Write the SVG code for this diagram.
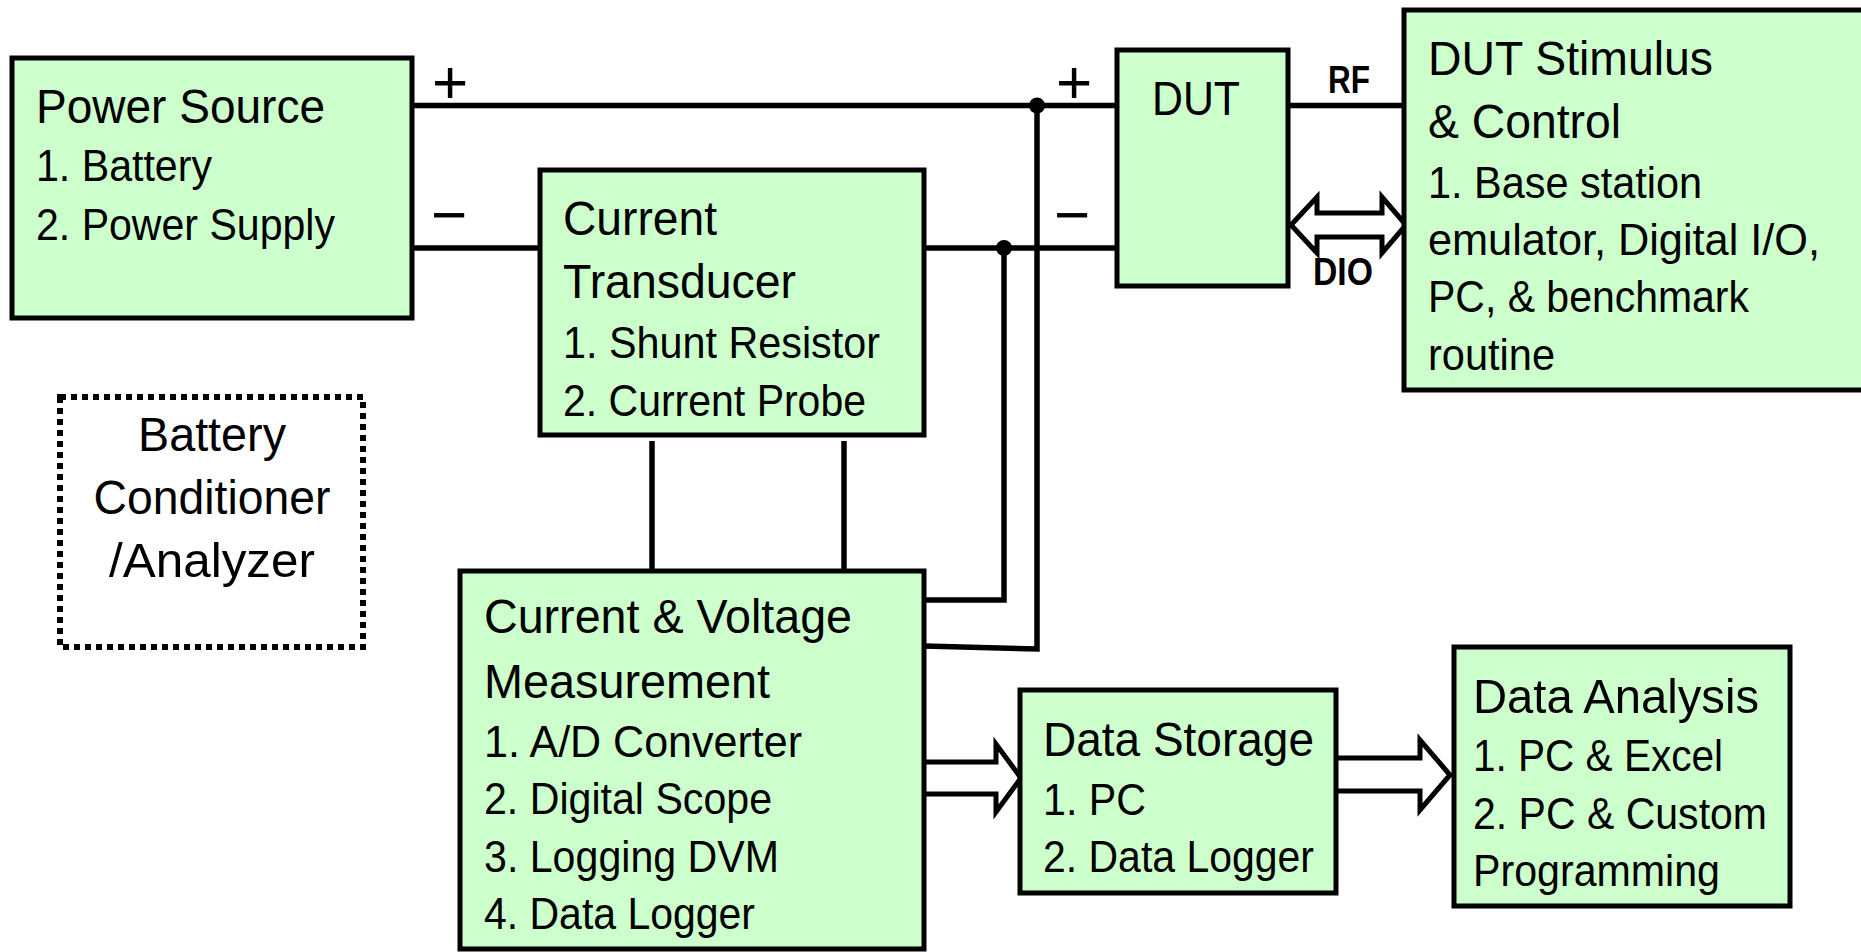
<svg xmlns="http://www.w3.org/2000/svg" width="1861" height="952" viewBox="0 0 1861 952">
<style>
.box{fill:#ccffcc;stroke:#000;stroke-width:5}
.dot-box{fill:#fff;stroke:#000;stroke-width:6;stroke-dasharray:6 5}
.t{font-family:"Liberation Sans",Arial,sans-serif;fill:#000}
.h{font-size:49px}
.l{font-size:43.5px}
.b{font-size:38px;font-weight:bold}
.sign{font-family:"Liberation Sans",Arial,sans-serif;font-size:62px;fill:#000;text-anchor:middle}
.w{fill:none;stroke:#000;stroke-width:5.5}
.blk{fill:none;stroke:#000;stroke-width:5;stroke-linejoin:miter}
</style>
<rect width="1861" height="952" fill="#fff"/>
<g id="connectors">
  <line class="w" x1="412" y1="105.5" x2="1117" y2="105.5"/>
  <line class="w" x1="412" y1="248" x2="540" y2="248"/>
  <line class="w" x1="924" y1="248" x2="1117" y2="248"/>
  <polyline class="w" points="924,646 1037,649 1037,105.5"/>
  <polyline class="w" points="924,600 1004,600 1004,248"/>
  <circle cx="1037" cy="105.5" r="8"/>
  <circle cx="1004" cy="248" r="8"/>
  <line class="w" x1="652" y1="441" x2="652" y2="571"/>
  <line class="w" x1="844" y1="441" x2="844" y2="571"/>
  <line class="w" x1="1290" y1="105.5" x2="1404" y2="105.5"/>
  <path class="blk" d="M1291,225 L1317,197 V213 H1382 V197 L1406,225 L1382,253 V237 H1317 V253 Z"/>
  <path class="blk" d="M924,762 H996 V744 L1021,778 L996,812 V794 H924"/>
  <path class="blk" d="M1336,758 H1420 V740 L1450,775 L1420,810 V791 H1336"/>
  <text class="sign" x="450" y="103">+</text>
  <text class="sign" x="449" y="236">−</text>
  <text class="sign" x="1074" y="103">+</text>
  <text class="sign" x="1072" y="236">−</text>
  <text class="t b" x="1328" y="93" textLength="42" lengthAdjust="spacingAndGlyphs">RF</text>
  <text class="t b" x="1313" y="285" textLength="60" lengthAdjust="spacingAndGlyphs">DIO</text>
</g>
<g id="power-source">
  <rect class="box" x="12" y="58" width="400" height="260"/>
  <text class="t h" x="36" y="122.5" textLength="289" lengthAdjust="spacingAndGlyphs">Power Source</text>
  <text class="t l" x="36" y="180.5" textLength="176" lengthAdjust="spacingAndGlyphs">1. Battery</text>
  <text class="t l" x="36" y="240" textLength="299" lengthAdjust="spacingAndGlyphs">2. Power Supply</text>
</g>
<g id="current-transducer">
  <rect class="box" x="540" y="170" width="384" height="265"/>
  <text class="t h" x="563" y="235" textLength="154" lengthAdjust="spacingAndGlyphs">Current</text>
  <text class="t h" x="563" y="298" textLength="233" lengthAdjust="spacingAndGlyphs">Transducer</text>
  <text class="t l" x="563" y="357.5" textLength="317" lengthAdjust="spacingAndGlyphs">1. Shunt Resistor</text>
  <text class="t l" x="563" y="415.5" textLength="303" lengthAdjust="spacingAndGlyphs">2. Current Probe</text>
</g>
<g id="dut">
  <rect class="box" x="1117" y="50" width="171" height="236"/>
  <text class="t h" x="1152" y="115" textLength="88" lengthAdjust="spacingAndGlyphs">DUT</text>
</g>
<g id="dut-stimulus">
  <rect class="box" x="1404" y="10" width="470" height="380"/>
  <text class="t h" x="1428" y="75" textLength="285" lengthAdjust="spacingAndGlyphs">DUT Stimulus</text>
  <text class="t h" x="1428" y="138" textLength="193" lengthAdjust="spacingAndGlyphs">&amp; Control</text>
  <text class="t l" x="1428" y="198" textLength="274" lengthAdjust="spacingAndGlyphs">1. Base station</text>
  <text class="t l" x="1428" y="255" textLength="392" lengthAdjust="spacingAndGlyphs">emulator, Digital I/O,</text>
  <text class="t l" x="1428" y="312" textLength="321" lengthAdjust="spacingAndGlyphs">PC, &amp; benchmark</text>
  <text class="t l" x="1428" y="370" textLength="127" lengthAdjust="spacingAndGlyphs">routine</text>
</g>
<g id="battery-conditioner">
  <rect class="dot-box" x="60" y="397" width="303" height="250"/>
  <text class="t h" x="212" y="451" text-anchor="middle" textLength="148" lengthAdjust="spacingAndGlyphs">Battery</text>
  <text class="t h" x="212" y="514" text-anchor="middle" textLength="237" lengthAdjust="spacingAndGlyphs">Conditioner</text>
  <text class="t h" x="212" y="577" text-anchor="middle" textLength="206" lengthAdjust="spacingAndGlyphs">/Analyzer</text>
</g>
<g id="cv-measurement">
  <rect class="box" x="460" y="571" width="464" height="378"/>
  <text class="t h" x="484" y="633" textLength="368" lengthAdjust="spacingAndGlyphs">Current &amp; Voltage</text>
  <text class="t h" x="484" y="698" textLength="286" lengthAdjust="spacingAndGlyphs">Measurement</text>
  <text class="t l" x="484" y="756.5" textLength="318" lengthAdjust="spacingAndGlyphs">1. A/D Converter</text>
  <text class="t l" x="484" y="814" textLength="288" lengthAdjust="spacingAndGlyphs">2. Digital Scope</text>
  <text class="t l" x="484" y="871.5" textLength="295" lengthAdjust="spacingAndGlyphs">3. Logging DVM</text>
  <text class="t l" x="484" y="929" textLength="271" lengthAdjust="spacingAndGlyphs">4. Data Logger</text>
</g>
<g id="data-storage">
  <rect class="box" x="1020" y="690" width="316" height="203"/>
  <text class="t h" x="1043" y="756" textLength="271" lengthAdjust="spacingAndGlyphs">Data Storage</text>
  <text class="t l" x="1043" y="815" textLength="103" lengthAdjust="spacingAndGlyphs">1. PC</text>
  <text class="t l" x="1043" y="872" textLength="271" lengthAdjust="spacingAndGlyphs">2. Data Logger</text>
</g>
<g id="data-analysis">
  <rect class="box" x="1454" y="647" width="336" height="259"/>
  <text class="t h" x="1473" y="713" textLength="286" lengthAdjust="spacingAndGlyphs">Data Analysis</text>
  <text class="t l" x="1473" y="771" textLength="250" lengthAdjust="spacingAndGlyphs">1. PC &amp; Excel</text>
  <text class="t l" x="1473" y="829" textLength="294" lengthAdjust="spacingAndGlyphs">2. PC &amp; Custom</text>
  <text class="t l" x="1473" y="886" textLength="247" lengthAdjust="spacingAndGlyphs">Programming</text>
</g>
</svg>
